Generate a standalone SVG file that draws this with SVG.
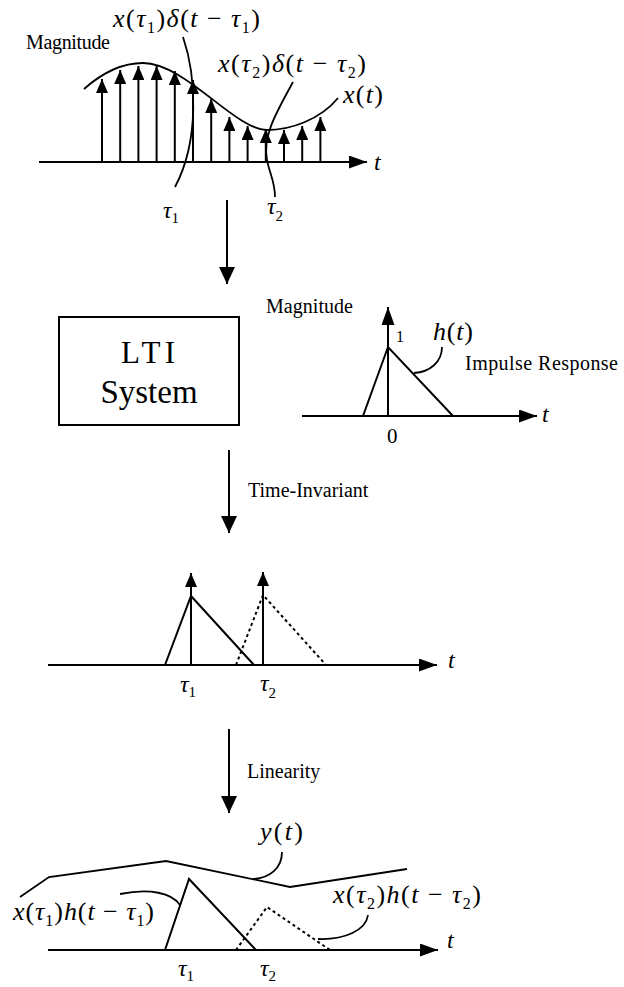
<svg xmlns="http://www.w3.org/2000/svg" width="624" height="987" viewBox="0 0 624 987">
<style>
.ln{stroke:#000;stroke-width:2;fill:none}
.cv{stroke:#000;stroke-width:1.8;fill:none}
.dot{stroke:#000;stroke-width:2;fill:none;stroke-dasharray:3 3}
text{fill:#000}
.i{font-style:italic}
.eq{font-size:26px}
.lb{font-size:20px}
</style>
<defs>
<marker id="imp" markerUnits="userSpaceOnUse" markerWidth="14" markerHeight="12" refX="14" refY="6" orient="auto"><path d="M0,0 L14,6 L0,12 z" fill="#000"/></marker>
<marker id="ax" markerUnits="userSpaceOnUse" markerWidth="18" markerHeight="13" refX="18" refY="6.5" orient="auto"><path d="M0,0 L18,6.5 L0,13 z" fill="#000"/></marker>
<marker id="flow" markerUnits="userSpaceOnUse" markerWidth="17" markerHeight="16" refX="17" refY="8" orient="auto"><path d="M0,0 L17,8 L0,16 z" fill="#000"/></marker>
</defs>
<g font-family="Liberation Serif">

<g id="input-signal">
<line class="ln" x1="39" y1="162" x2="367" y2="162" marker-end="url(#ax)"/>
<text class="i" font-size="24" x="374" y="170">t</text>
<text font-size="20" x="26" y="49" textLength="84">Magnitude</text>
<g class="ln" marker-end="url(#imp)">
<line x1="102" y1="162" x2="102" y2="79"/>
<line x1="120.2" y1="162" x2="120.2" y2="70"/>
<line x1="138.4" y1="162" x2="138.4" y2="66"/>
<line x1="156.6" y1="162" x2="156.6" y2="66"/>
<line x1="174.8" y1="162" x2="174.8" y2="71"/>
<line x1="193" y1="162" x2="193" y2="80"/>
<line x1="211.2" y1="162" x2="211.2" y2="99"/>
<line x1="229.4" y1="162" x2="229.4" y2="117"/>
<line x1="247.6" y1="162" x2="247.6" y2="126"/>
<line x1="265.8" y1="162" x2="265.8" y2="129"/>
<line x1="284" y1="162" x2="284" y2="130"/>
<line x1="302.2" y1="162" x2="302.2" y2="126"/>
<line x1="320.4" y1="162" x2="320.4" y2="117"/>
</g>
<path class="cv" d="M84,89 C102,73 122,63 143,63 C185,63 235,130 267,130 C290,130 320,120 338,98"/>
<text class="eq" x="113" y="27" textLength="147"><tspan class="i">x</tspan>(<tspan class="i">τ</tspan><tspan font-size="16" dy="6">1</tspan><tspan dy="-6">)</tspan><tspan class="i">δ</tspan>(<tspan class="i">t</tspan> − <tspan class="i">τ</tspan><tspan font-size="16" dy="6">1</tspan><tspan dy="-6">)</tspan></text>
<path class="cv" d="M183,37 C196,75 200,140 175,187"/>
<text class="eq" x="218" y="72" textLength="148"><tspan class="i">x</tspan>(<tspan class="i">τ</tspan><tspan font-size="16" dy="6">2</tspan><tspan dy="-6">)</tspan><tspan class="i">δ</tspan>(<tspan class="i">t</tspan> − <tspan class="i">τ</tspan><tspan font-size="16" dy="6">2</tspan><tspan dy="-6">)</tspan></text>
<path class="cv" d="M293,82 C278,110 262,135 267,160 C270,175 275,182 275,197"/>
<text class="eq" x="343" y="103" textLength="40"><tspan class="i">x</tspan>(<tspan class="i">t</tspan>)</text>
<text class="i" font-size="24" x="163" y="218">τ<tspan font-size="15" font-style="normal" dy="5">1</tspan></text>
<text class="i" font-size="24" x="267" y="214">τ<tspan font-size="15" font-style="normal" dy="7">2</tspan></text>
</g>

<g id="lti-system">
<rect x="59" y="317" width="180" height="108" fill="none" stroke="#000" stroke-width="2"/>
<text font-size="31" x="121" y="363" textLength="54">LTI</text>
<text font-size="33" x="149" y="403" text-anchor="middle">System</text>
</g>

<g id="impulse-response">
<line class="ln" x1="302" y1="416" x2="537" y2="416" marker-end="url(#ax)"/>
<line class="ln" x1="388" y1="416" x2="388" y2="307" marker-end="url(#ax)"/>
<polyline class="ln" points="363,416 388,347 453,416"/>
<text font-size="20" x="266" y="313" textLength="87">Magnitude</text>
<text font-size="16" x="396" y="342">1</text>
<text class="eq" x="433" y="340" textLength="40"><tspan class="i">h</tspan>(<tspan class="i">t</tspan>)</text>
<path class="cv" d="M442,347 C442,362 430,372 414,373"/>
<text class="lb" x="465" y="370" textLength="153">Impulse Response</text>
<text class="i" font-size="24" x="542" y="422">t</text>
<text font-size="21" x="387" y="443">0</text>
</g>

<g id="shifted-responses">
<line class="ln" x1="48" y1="665" x2="437" y2="665" marker-end="url(#ax)"/>
<text class="i" font-size="24" x="448" y="668">t</text>
<line class="ln" x1="191" y1="665" x2="191" y2="573" marker-end="url(#imp)"/>
<line class="ln" x1="263" y1="665" x2="263" y2="572" marker-end="url(#imp)"/>
<polyline class="ln" points="165,665 191,596 254,665"/>
<polyline class="dot" points="236,665 263,595 326,665"/>
<text class="i" font-size="24" x="180" y="692">τ<tspan font-size="15" font-style="normal" dy="5">1</tspan></text>
<text class="i" font-size="24" x="260" y="691">τ<tspan font-size="15" font-style="normal" dy="7">2</tspan></text>
</g>

<g id="output-sum">
<line class="ln" x1="48" y1="950" x2="438" y2="950" marker-end="url(#ax)"/>
<text class="i" font-size="24" x="447" y="948">t</text>
<polyline class="ln" points="165,950 189,879 256,950"/>
<polyline class="dot" points="236,950 267,907 330,950"/>
<polyline class="cv" points="20,897 49,877 166,861 290,887 407,869"/>
<text class="eq" x="260" y="840" textLength="43"><tspan class="i">y</tspan>(<tspan class="i">t</tspan>)</text>
<path class="cv" d="M282,852 C282,868 270,878 253,879"/>
<text class="eq" x="13" y="920" textLength="141"><tspan class="i">x</tspan>(<tspan class="i">τ</tspan><tspan font-size="16" dy="6">1</tspan><tspan dy="-6">)</tspan><tspan class="i">h</tspan>(<tspan class="i">t</tspan> − <tspan class="i">τ</tspan><tspan font-size="16" dy="6">1</tspan><tspan dy="-6">)</tspan></text>
<path class="cv" d="M120,894 C150,888 172,893 180,905"/>
<text class="eq" x="333" y="903" textLength="148"><tspan class="i">x</tspan>(<tspan class="i">τ</tspan><tspan font-size="16" dy="6">2</tspan><tspan dy="-6">)</tspan><tspan class="i">h</tspan>(<tspan class="i">t</tspan> − <tspan class="i">τ</tspan><tspan font-size="16" dy="6">2</tspan><tspan dy="-6">)</tspan></text>
<path class="cv" d="M368,915 C366,930 345,940 318,939"/>
<text class="i" font-size="24" x="178" y="976">τ<tspan font-size="15" font-style="normal" dy="5">1</tspan></text>
<text class="i" font-size="24" x="260" y="976">τ<tspan font-size="15" font-style="normal" dy="5">2</tspan></text>
</g>

<g id="connectors">
<line class="ln" x1="227" y1="200" x2="227" y2="284" marker-end="url(#flow)"/>
<line class="ln" x1="229" y1="450" x2="229" y2="533" marker-end="url(#flow)"/>
<text class="lb" x="248" y="497">Time-Invariant</text>
<line class="ln" x1="229" y1="729" x2="229" y2="813" marker-end="url(#flow)"/>
<text class="lb" x="247" y="778">Linearity</text>
</g>
</g>
</svg>
